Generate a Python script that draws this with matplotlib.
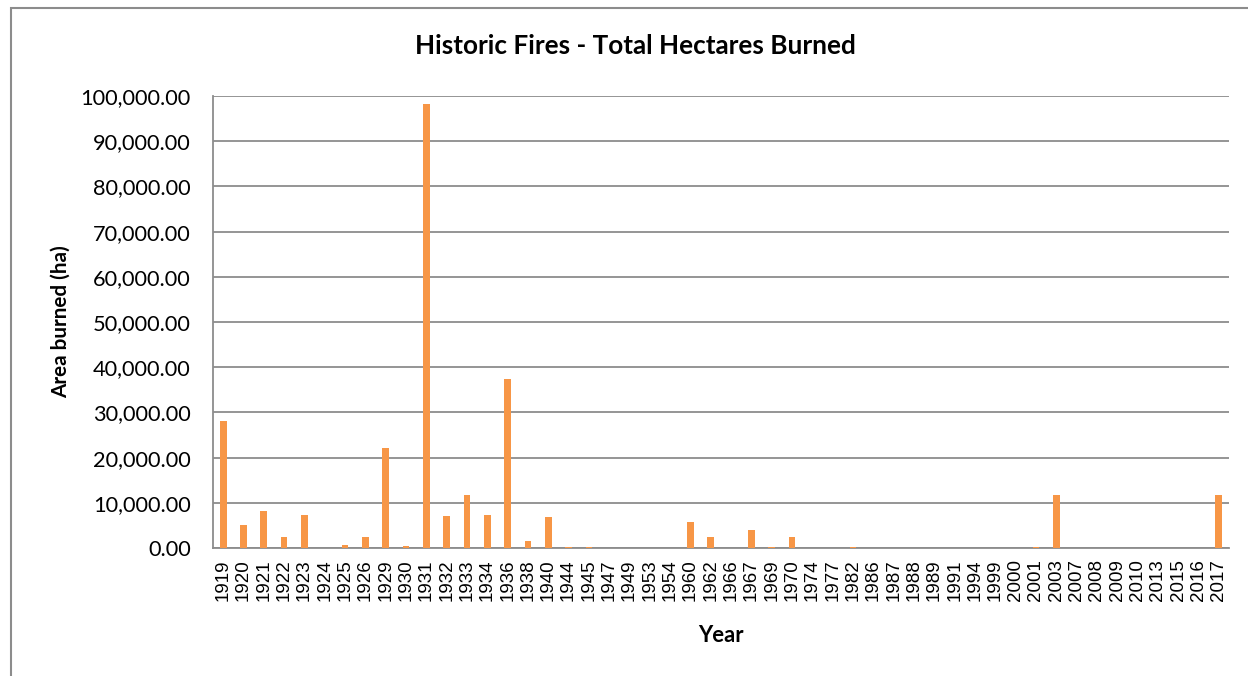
import matplotlib
matplotlib.use("Agg")
import matplotlib.pyplot as plt
from matplotlib.patches import Rectangle
from matplotlib.ticker import FuncFormatter

# Donnees
annees = ['1919', '1920', '1921', '1922', '1923', '1924', '1925', '1926', '1929', '1930',
          '1931', '1932', '1933', '1934', '1936', '1938', '1940', '1944', '1945', '1947',
          '1949', '1953', '1954', '1960', '1962', '1966', '1967', '1969', '1970', '1974',
          '1977', '1982', '1986', '1987', '1988', '1989', '1991', '1994', '1999', '2000',
          '2001', '2003', '2007', '2008', '2009', '2010', '2013', '2015', '2016', '2017']
hectares = [28100, 5100, 8200, 2500, 7400, 30, 650, 2350, 22100, 450,
            98200, 7050, 11800, 7300, 37500, 1600, 6850, 120, 150, 20,
            60, 20, 10, 5700, 2500, 20, 4000, 120, 2350, 20,
            100, 120, 20, 100, 20, 10, 10, 10, 10, 10,
            150, 11800, 10, 10, 10, 10, 10, 10, 10, 11650]
graduations = [0, 10000, 20000, 30000, 40000, 50000, 60000, 70000, 80000, 90000, 100000]

COULEUR_BARRE = '#F79646'
COULEUR_GRILLE = '#8c8c8c'
POLICE = 'Lato'

fig = plt.figure(figsize=(12.48, 6.76), dpi=100)
ax = fig.add_axes([213 / 1248, 1 - 548 / 676, (1229 - 213) / 1248, (548 - 96) / 676])

positions = range(len(annees))
ax.bar(positions, hectares, width=0.33, color=COULEUR_BARRE, zorder=3)

ax.set_xlim(-0.5, len(annees) - 0.5)
ax.set_ylim(0, 100000)
ax.set_yticks(graduations)
ax.yaxis.set_major_formatter(FuncFormatter(lambda v, p: f'{v:,.2f}'))
ax.set_xticks(list(positions))
ax.set_xticklabels(annees, rotation=90, family='Liberation Sans', fontsize=13.5)
for lab in ax.get_yticklabels():
    lab.set_family(POLICE)
    lab.set_fontsize(15.7)

ax.tick_params(axis='y', length=0, pad=16)
ax.tick_params(axis='x', length=0, pad=8)
ax.grid(axis='y', color=COULEUR_GRILLE, linewidth=1.3, zorder=0)

for cote in ['top', 'right']:
    ax.spines[cote].set_visible(False)
for cote in ['left', 'bottom']:
    ax.spines[cote].set_color(COULEUR_GRILLE)
    ax.spines[cote].set_linewidth(1.3)

fig.text(635 / 1248, 1 - 46 / 676, 'Historic Fires - Total Hectares Burned',
         ha='center', va='center', fontsize=18.8, fontweight='bold', family=POLICE)
ax.set_ylabel('Area burned (ha)', fontsize=14.9, fontweight='bold', family=POLICE, labelpad=7)
fig.text(721 / 1248, 1 - 635 / 676, 'Year', ha='center', va='center',
         fontsize=15.8, fontweight='bold', family=POLICE)

# Cadre exterieur du graphique
fig.add_artist(Rectangle((11 / 1248, -0.05), 1.2, 1 - 8 / 676 + 0.05,
                         transform=fig.transFigure, fill=False,
                         edgecolor=COULEUR_GRILLE, linewidth=1.5))

fig.savefig('out.png', dpi=100)
